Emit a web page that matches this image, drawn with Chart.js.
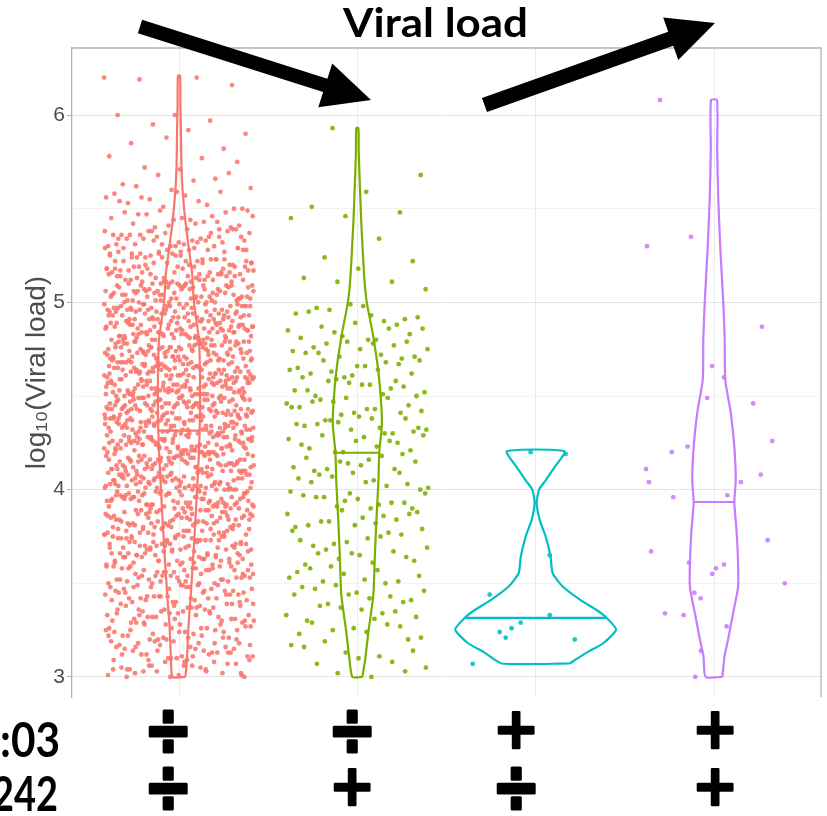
<!DOCTYPE html>
<html>
<head>
<meta charset="utf-8">
<script src="https://cdn.jsdelivr.net/npm/chart.js@4.4.1/dist/chart.umd.min.js"></script>
<style>
  html, body { margin: 0; padding: 0; background: #fff; }
</style>
</head>
<body>
<canvas id="violinChart" width="827" height="816"></canvas>
<script>
// Category positions on the x axis (1..4) and their colours
const groupPos = [1, 2, 3, 4];
const colours = ['#F8766D', '#7CAE00', '#00BFC4', '#C77CFF'];
const yTicks = [3, 3.5, 4, 4.5, 5, 5.5, 6];

// genotype table under the chart
const rowLabels = [':03', '242'];
const row1Marks = ['÷', '÷', '+', '+'];
const row2Marks = ['÷', '+', '÷', '+'];

// log10 viral load per patient, group 1
const redLoad = [
  6.20,6.20,6.19,6.16,6.00,6.00,5.97,5.95,5.90,5.92,5.85,5.82,5.88,5.78,5.77,5.72,5.75,5.71,5.63,5.66,5.68,5.61,5.65,5.62,5.69,5.60,
  5.58,5.52,5.55,5.50,5.57,5.53,5.59,5.51,5.56,5.54,5.56,5.50,5.59,5.54,
  5.46,5.40,5.49,5.44,5.42,5.48,5.41,5.45,5.43,5.47,5.41,5.45,5.48,5.43,5.49,5.46,5.42,5.47,5.40,5.44,
  5.31,5.35,5.38,5.33,5.39,5.36,5.32,5.37,5.30,5.34,5.34,5.39,5.32,5.36,5.30,5.35,5.37,5.33,5.31,5.38,
  5.30,5.36,5.33,5.38,5.35,5.31,5.34,5.39,
  5.24,5.29,5.22,5.26,5.20,5.25,5.27,5.23,5.21,5.28,5.20,5.26,5.23,5.28,5.25,5.21,5.24,5.29,5.27,5.22,
  5.23,5.27,5.21,5.29,5.24,5.20,5.26,5.22,5.28,5.25,5.28,5.22,
  5.10,5.16,5.13,5.18,5.15,5.11,5.14,5.19,5.17,5.12,5.13,5.17,5.11,5.19,5.14,5.10,5.16,5.12,5.18,5.15,
  5.18,5.12,5.15,5.10,5.17,5.13,5.19,5.11,5.16,5.14,5.16,5.10,5.19,5.14,5.12,5.18,5.11,5.15,
  5.03,5.07,5.01,5.09,5.04,5.00,5.06,5.02,5.08,5.05,5.08,5.02,5.05,5.00,5.07,5.03,5.09,5.01,5.06,5.04,
  5.06,5.00,5.09,5.04,5.02,5.08,5.01,5.05,5.03,5.07,5.01,5.05,5.08,5.03,5.09,5.06,5.02,5.07,5.00,5.04,
  5.04,5.09,5.02,5.06,
  4.98,4.92,4.95,4.90,4.97,4.93,4.99,4.91,4.96,4.94,4.96,4.90,4.99,4.94,4.92,4.98,4.91,4.95,4.93,4.97,
  4.91,4.95,4.98,4.93,4.99,4.96,4.92,4.97,4.90,4.94,4.94,4.99,4.92,4.96,4.90,4.95,4.97,4.93,4.91,4.98,
  4.90,4.96,4.93,4.98,4.95,4.91,4.94,4.99,
  4.86,4.80,4.89,4.84,4.82,4.88,4.81,4.85,4.83,4.87,4.81,4.85,4.88,4.83,4.89,4.86,4.82,4.87,4.80,4.84,
  4.84,4.89,4.82,4.86,4.80,4.85,4.87,4.83,4.81,4.88,4.80,4.86,4.83,4.88,4.85,4.81,4.84,4.89,4.87,4.82,
  4.83,4.87,4.81,4.89,4.84,4.80,4.86,4.82,4.88,4.85,
  4.71,4.75,4.78,4.73,4.79,4.76,4.72,4.77,4.70,4.74,4.74,4.79,4.72,4.76,4.70,4.75,4.77,4.73,4.71,4.78,
  4.70,4.76,4.73,4.78,4.75,4.71,4.74,4.79,4.77,4.72,4.73,4.77,4.71,4.79,4.74,4.70,4.76,4.72,4.78,4.75,
  4.78,4.72,4.75,4.70,4.77,4.73,4.79,4.71,4.76,4.74,4.76,4.70,
  4.64,4.69,4.62,4.66,4.60,4.65,4.67,4.63,4.61,4.68,4.60,4.66,4.63,4.68,4.65,4.61,4.64,4.69,4.67,4.62,
  4.63,4.67,4.61,4.69,4.64,4.60,4.66,4.62,4.68,4.65,4.68,4.62,4.65,4.60,4.67,4.63,4.69,4.61,4.66,4.64,
  4.66,4.60,4.69,4.64,4.62,4.68,4.61,4.65,4.63,4.67,4.61,4.65,4.68,4.63,
  4.50,4.56,4.53,4.58,4.55,4.51,4.54,4.59,4.57,4.52,4.53,4.57,4.51,4.59,4.54,4.50,4.56,4.52,4.58,4.55,
  4.58,4.52,4.55,4.50,4.57,4.53,4.59,4.51,4.56,4.54,4.56,4.50,4.59,4.54,4.52,4.58,4.51,4.55,4.53,4.57,
  4.51,4.55,4.58,4.53,4.59,4.56,4.52,4.57,4.50,4.54,4.54,4.59,4.52,4.56,4.50,
  4.43,4.47,4.41,4.49,4.44,4.40,4.46,4.42,4.48,4.45,4.48,4.42,4.45,4.40,4.47,4.43,4.49,4.41,4.46,4.44,
  4.46,4.40,4.49,4.44,4.42,4.48,4.41,4.45,4.43,4.47,4.41,4.45,4.48,4.43,4.49,4.46,4.42,4.47,4.40,4.44,
  4.44,4.49,4.42,4.46,4.40,4.45,4.47,4.43,4.41,4.48,4.40,4.46,4.43,4.48,4.45,
  4.38,4.32,4.35,4.30,4.37,4.33,4.39,4.31,4.36,4.34,4.36,4.30,4.39,4.34,4.32,4.38,4.31,4.35,4.33,4.37,
  4.31,4.35,4.38,4.33,4.39,4.36,4.32,4.37,4.30,4.34,4.34,4.39,4.32,4.36,4.30,4.35,4.37,4.33,4.31,4.38,
  4.30,4.36,4.33,4.38,4.35,4.31,4.34,4.39,4.37,4.32,4.33,4.37,4.31,4.39,4.34,
  4.26,4.20,4.29,4.24,4.22,4.28,4.21,4.25,4.23,4.27,4.21,4.25,4.28,4.23,4.29,4.26,4.22,4.27,4.20,4.24,
  4.24,4.29,4.22,4.26,4.20,4.25,4.27,4.23,4.21,4.28,4.20,4.26,4.23,4.28,4.25,4.21,4.24,4.29,4.27,4.22,
  4.23,4.27,4.21,4.29,4.24,4.20,4.26,4.22,4.28,4.25,4.28,4.22,4.25,4.20,
  4.11,4.15,4.18,4.13,4.19,4.16,4.12,4.17,4.10,4.14,4.14,4.19,4.12,4.16,4.10,4.15,4.17,4.13,4.11,4.18,
  4.10,4.16,4.13,4.18,4.15,4.11,4.14,4.19,4.17,4.12,4.13,4.17,4.11,4.19,4.14,4.10,4.16,4.12,4.18,4.15,
  4.18,4.12,4.15,4.10,4.17,4.13,4.19,4.11,4.16,4.14,4.16,4.10,
  4.04,4.09,4.02,4.06,4.00,4.05,4.07,4.03,4.01,4.08,4.00,4.06,4.03,4.08,4.05,4.01,4.04,4.09,4.07,4.02,
  4.03,4.07,4.01,4.09,4.04,4.00,4.06,4.02,4.08,4.05,4.08,4.02,4.05,4.00,4.07,4.03,4.09,4.01,4.06,4.04,
  4.06,4.00,4.09,4.04,4.02,4.08,4.01,4.05,4.03,4.07,
  3.90,3.96,3.93,3.98,3.95,3.91,3.94,3.99,3.97,3.92,3.93,3.97,3.91,3.99,3.94,3.90,3.96,3.92,3.98,3.95,
  3.98,3.92,3.95,3.90,3.97,3.93,3.99,3.91,3.96,3.94,3.96,3.90,3.99,3.94,3.92,3.98,3.91,3.95,3.93,3.97,
  3.91,3.95,3.98,3.93,3.99,3.96,3.92,
  3.83,3.87,3.81,3.89,3.84,3.80,3.86,3.82,3.88,3.85,3.88,3.82,3.85,3.80,3.87,3.83,3.89,3.81,3.86,3.84,
  3.86,3.80,3.89,3.84,3.82,3.88,3.81,3.85,3.83,3.87,3.81,3.85,3.88,3.83,3.89,3.86,3.82,3.87,3.80,3.84,
  3.84,3.89,3.82,3.86,
  3.78,3.72,3.75,3.70,3.77,3.73,3.79,3.71,3.76,3.74,3.76,3.70,3.79,3.74,3.72,3.78,3.71,3.75,3.73,3.77,
  3.71,3.75,3.78,3.73,3.79,3.76,3.72,3.77,3.70,3.74,3.74,3.79,3.72,3.76,3.70,3.75,3.77,3.73,3.71,3.78,
  3.70,
  3.66,3.60,3.69,3.64,3.62,3.68,3.61,3.65,3.63,3.67,3.61,3.65,3.68,3.63,3.69,3.66,3.62,3.67,3.60,3.64,
  3.64,3.69,3.62,3.66,3.60,3.65,3.67,3.63,3.61,3.68,3.60,3.66,3.63,3.68,3.65,3.61,3.64,3.69,
  3.51,3.55,3.58,3.53,3.59,3.56,3.52,3.57,3.50,3.54,3.54,3.59,3.52,3.56,3.50,3.55,3.57,3.53,3.51,3.58,
  3.50,3.56,3.53,3.58,3.55,3.51,3.54,3.59,3.57,3.52,3.53,3.57,3.51,3.59,3.54,
  3.44,3.49,3.42,3.46,3.40,3.45,3.47,3.43,3.41,3.48,3.40,3.46,3.43,3.48,3.45,3.41,3.44,3.49,3.47,3.42,
  3.43,3.47,3.41,3.49,3.44,3.40,3.46,3.42,3.48,3.45,3.48,3.42,
  3.30,3.36,3.33,3.38,3.35,3.31,3.34,3.39,3.37,3.32,3.33,3.37,3.31,3.39,3.34,3.30,3.36,3.32,3.38,3.35,
  3.38,3.32,3.35,3.30,3.37,3.33,3.39,3.31,3.36,3.34,
  3.23,3.27,3.21,3.29,3.24,3.20,3.26,3.22,3.28,3.25,3.28,3.22,3.25,3.20,3.27,3.23,3.29,3.21,3.26,3.24,
  3.26,3.20,3.29,3.24,3.22,3.28,3.21,3.25,
  3.18,3.12,3.15,3.10,3.17,3.13,3.19,3.11,3.16,3.14,3.16,3.10,3.19,3.14,3.12,3.18,3.11,3.15,3.13,3.17,
  3.11,3.15,3.18,3.13,3.19,3.16,3.12,
  3.06,3.00,3.09,3.04,3.02,3.08,3.01,3.05,3.03,3.07,3.01,3.05,3.08,3.03,3.09,3.06,3.02,3.07,3.00,3.04,
  3.04,3.09,3.02,3.06,3.00,
  // second batch of group 1 patients
  5.35,5.31,5.38,5.32,5.36,5.39,5.30,5.34,5.37,5.33,
  5.22,5.28,5.24,5.27,5.21,5.26,5.23,5.20,5.29,5.25,5.29,5.23,5.26,5.21,
  5.19,5.13,5.16,5.11,5.18,5.14,5.15,5.12,5.10,5.17,5.15,5.11,5.18,5.12,5.16,5.19,5.10,5.14,
  5.05,5.01,5.08,5.02,5.06,5.09,5.00,5.04,5.07,5.03,5.02,5.08,5.04,5.07,5.01,5.06,5.03,5.00,5.09,5.05,
  5.09,5.03,
  4.92,4.98,4.94,4.97,4.91,4.96,4.93,4.90,4.99,4.95,4.99,4.93,4.96,4.91,4.98,4.94,4.95,4.92,4.90,4.97,
  4.95,4.91,4.98,4.92,4.96,
  4.89,4.83,4.86,4.81,4.88,4.84,4.85,4.82,4.80,4.87,4.85,4.81,4.88,4.82,4.86,4.89,4.80,4.84,4.87,4.83,
  4.82,4.88,4.84,4.87,4.81,4.86,
  4.75,4.71,4.78,4.72,4.76,4.79,4.70,4.74,4.77,4.73,4.72,4.78,4.74,4.77,4.71,4.76,4.73,4.70,4.79,4.75,
  4.79,4.73,4.76,4.71,4.78,4.74,4.75,
  4.62,4.68,4.64,4.67,4.61,4.66,4.63,4.60,4.69,4.65,4.69,4.63,4.66,4.61,4.68,4.64,4.65,4.62,4.60,4.67,
  4.65,4.61,4.68,4.62,4.66,4.69,4.60,4.64,
  4.59,4.53,4.56,4.51,4.58,4.54,4.55,4.52,4.50,4.57,4.55,4.51,4.58,4.52,4.56,4.59,4.50,4.54,4.57,4.53,
  4.52,4.58,4.54,4.57,4.51,4.56,4.53,4.50,
  4.45,4.41,4.48,4.42,4.46,4.49,4.40,4.44,4.47,4.43,4.42,4.48,4.44,4.47,4.41,4.46,4.43,4.40,4.49,4.45,
  4.49,4.43,4.46,4.41,4.48,4.44,4.45,4.42,
  4.32,4.38,4.34,4.37,4.31,4.36,4.33,4.30,4.39,4.35,4.39,4.33,4.36,4.31,4.38,4.34,4.35,4.32,4.30,4.37,
  4.35,4.31,4.38,4.32,4.36,4.39,4.30,4.34,
  4.29,4.23,4.26,4.21,4.28,4.24,4.25,4.22,4.20,4.27,4.25,4.21,4.28,4.22,4.26,4.29,4.20,4.24,4.27,4.23,
  4.22,4.28,4.24,4.27,4.21,4.26,4.23,
  4.15,4.11,4.18,4.12,4.16,4.19,4.10,4.14,4.17,4.13,4.12,4.18,4.14,4.17,4.11,4.16,4.13,4.10,4.19,4.15,
  4.19,4.13,4.16,4.11,4.18,4.14,
  4.02,4.08,4.04,4.07,4.01,4.06,4.03,4.00,4.09,4.05,4.09,4.03,4.06,4.01,4.08,4.04,4.05,4.02,4.00,4.07,
  4.05,4.01,4.08,4.02,4.06,
  3.99,3.93,3.96,3.91,3.98,3.94,3.95,3.92,3.90,3.97,3.95,3.91,3.98,3.92,3.96,3.99,3.90,3.94,3.97,3.93,
  3.92,3.98,
  3.85,3.81,3.88,3.82,3.86,3.89,3.80,3.84,3.87,3.83,3.82,3.88,3.84,3.87,3.81,3.86,3.83,3.80,3.89,3.85,
  3.72,3.78,3.74,3.77,3.71,3.76,3.73,3.70,3.79,3.75,3.79,3.73,3.76,3.71,3.78,3.74,3.75,3.72,
  3.69,3.63,3.66,3.61,3.68,3.64,3.65,3.62,3.60,3.67,3.65,3.61,3.68,3.62,3.66,3.69,
  3.55,3.51,3.58,3.52,3.56,3.59,3.50,3.54,3.57,3.53,3.52,3.58,3.54,3.57,
  3.42,3.48,3.44,3.47,3.41,3.46,3.43,3.40,3.49,3.45,3.49,3.43,
  3.39,3.33,3.36,3.31,3.38,3.34,3.35,3.32,3.30,3.37,
  3.25,3.21,3.28,3.22,3.26,3.29,3.20,3.24,
  3.12,3.18,3.14,3.17,3.11,3.16,3.13,3.10,
  3.09,3.03,3.06,3.01,3.08,3.04
];

// group 2
const greenLoad = [
  5.93,5.68,5.59,5.51,5.48,5.46,5.45,5.34,5.24,5.22,5.18,5.13,5.11,5.11,5.07,
  4.93,4.97,4.91,4.99,4.94,4.90,4.96,4.92,4.98,4.95,
  4.88,4.82,4.85,4.80,4.87,4.83,4.89,4.81,4.86,4.84,4.86,4.80,
  4.76,4.70,4.79,4.74,4.72,4.78,4.71,4.75,4.73,4.77,4.71,4.75,4.78,4.73,4.79,
  4.61,4.65,4.68,4.63,4.69,4.66,4.62,4.67,4.60,4.64,4.64,4.69,4.62,4.66,4.60,
  4.54,4.59,4.52,4.56,4.50,4.55,4.57,4.53,4.51,4.58,4.50,4.56,4.53,4.58,
  4.40,4.46,4.43,4.48,4.45,4.41,4.44,4.49,4.47,4.42,4.43,4.47,4.41,4.49,4.44,
  4.33,4.37,4.31,4.39,4.34,4.30,4.36,4.32,4.38,4.35,4.38,4.32,4.35,4.30,4.37,4.33,
  4.28,4.22,4.25,4.20,4.27,4.23,4.29,4.21,4.26,4.24,4.26,4.20,4.29,
  4.16,4.10,4.19,4.14,4.12,4.18,4.11,4.15,4.13,4.17,4.11,4.15,
  4.01,4.05,4.08,4.03,4.09,4.06,4.02,4.07,4.00,4.04,4.04,4.09,
  3.94,3.99,3.92,3.96,3.90,3.95,3.97,3.93,3.91,3.98,3.90,3.96,3.93,3.98,
  3.80,3.86,3.83,3.88,3.85,3.81,3.84,3.89,3.87,3.82,3.83,3.87,3.81,
  3.73,3.77,3.71,3.79,3.74,3.70,3.76,3.72,3.78,3.75,
  3.68,3.62,3.65,3.60,3.67,3.63,3.69,3.61,3.66,3.64,3.66,
  3.56,3.50,3.59,3.54,3.52,3.58,3.51,3.55,3.53,3.57,3.51,
  3.41,3.45,3.48,3.43,3.49,3.46,3.42,3.47,3.40,3.44,3.44,
  3.34,3.39,3.32,3.36,3.30,3.35,3.37,3.33,3.31,3.38,
  3.20,3.26,3.23,3.28,3.25,3.21,3.24,3.29,3.27,
  3.13,3.17,3.11,3.19,3.14,3.10,3.16,
  3.08,3.02,3.05,3.00,3.07,3.03
];

// group 3 (few patients, read one by one)
const cyanLoad   = [4.20, 4.19, 3.65, 3.44, 3.33, 3.29, 3.26, 3.24, 3.21, 3.20, 3.07];
const cyanJitter = [-0.028, 0.168, 0.079, -0.258, 0.079, -0.084, -0.135, -0.202, -0.168, 0.219, -0.353];

// group 4
const purpleLoad = [6.08, 5.35, 5.30, 4.87, 4.66, 4.60, 4.49, 4.46, 4.26, 4.23, 4.20, 4.11, 4.08, 4.04, 4.04, 3.97,
  3.96, 3.73, 3.67, 3.61, 3.60, 3.58, 3.55, 3.50, 3.45, 3.42, 3.34, 3.33, 3.27, 3.14, 3.00];
const purpleJitter = [-0.303, -0.129, -0.376, 0.269, -0.011, 0.056, -0.038, 0.220, 0.327, -0.148, -0.237, -0.381, 0.262, -0.365, 0.151, 0.075,
  -0.228, 0.301, -0.353, -0.140, 0.056, 0.011, -0.010, 0.397, -0.110, -0.075, -0.275, -0.170, 0.071, -0.073, -0.105];

// medians drawn inside each violin
const medians = [4.315, 4.197, 3.315, 3.934];

// violin outlines: density half width (category units) at each load level
const redViolinY = [3.00, 3.10, 3.27, 3.45, 3.63, 3.80, 4.00, 4.20, 4.40, 4.60, 4.80, 5.00, 5.16, 5.28, 5.45, 5.60, 5.72, 5.90, 6.05, 6.21];
const redViolinW = [0.036, 0.045, 0.053, 0.067, 0.079, 0.090, 0.101, 0.112, 0.118, 0.118, 0.112, 0.084, 0.073, 0.056, 0.034, 0.020, 0.014, 0.011, 0.008, 0.006];
const greenViolinY = [3.00, 3.10, 3.24, 3.44, 3.64, 3.84, 4.04, 4.20, 4.34, 4.44, 4.63, 4.83, 5.00, 5.13, 5.43, 5.63, 5.80, 5.93];
const greenViolinW = [0.028, 0.045, 0.062, 0.090, 0.098, 0.107, 0.118, 0.123, 0.137, 0.135, 0.118, 0.087, 0.053, 0.039, 0.022, 0.014, 0.008, 0.006];
const cyanViolinY = [3.072, 3.13, 3.18, 3.253, 3.32, 3.36, 3.41, 3.484, 3.555, 3.64, 3.75, 3.84, 3.93, 4.00, 4.05, 4.124, 4.205];
const cyanViolinW = [0.191, 0.286, 0.379, 0.451, 0.393, 0.337, 0.252, 0.150, 0.095, 0.084, 0.056, 0.022, 0.006, 0.019, 0.056, 0.109, 0.161];
const purpleViolinY = [3.00, 3.11, 3.20, 3.34, 3.48, 3.61, 3.787, 3.934, 4.05, 4.23, 4.41, 4.587, 4.80, 5.00, 5.28, 5.55, 5.81, 6.08];
const purpleViolinW = [0.047, 0.059, 0.079, 0.107, 0.135, 0.135, 0.126, 0.114, 0.122, 0.114, 0.094, 0.063, 0.060, 0.052, 0.036, 0.024, 0.018, 0.017];

const violinY = [redViolinY, greenViolinY, cyanViolinY, purpleViolinY];
const violinW = [redViolinW, greenViolinW, cyanViolinW, purpleViolinW];

// spread a big group sideways (the plot is a jitter plot)
function spread(values, centre, width, seed) {
  return values.map((v, i) => ({ x: centre + ((((i + seed) * 0.6180339887) % 1) * 2 - 1) * width, y: v }));
}

function placed(values, centre, jitter) {
  return values.map((v, i) => ({ x: centre + jitter[i], y: v }));
}

function outline(levels, half, centre) {
  const right = levels.map((y, i) => ({ x: centre + half[i], y: y }));
  const left = levels.map((y, i) => ({ x: centre - half[i], y: y })).reverse();
  return right.concat(left, [right[0]]);
}

function halfAt(levels, half, y) {
  for (let i = 1; i < levels.length; i++) {
    if (y <= levels[i]) {
      const t = (y - levels[i - 1]) / (levels[i] - levels[i - 1]);
      return half[i - 1] + t * (half[i] - half[i - 1]);
    }
  }
  return half[half.length - 1];
}

const pointSets = [
  spread(redLoad, groupPos[0], 0.42, 0),
  spread(greenLoad, groupPos[1], 0.40, 7),
  placed(cyanLoad, groupPos[2], cyanJitter),
  placed(purpleLoad, groupPos[3], purpleJitter)
];

const datasets = [];
groupPos.forEach((c, g) => {
  datasets.push({
    data: outline(violinY[g], violinW[g], c),
    showLine: true,
    borderColor: colours[g],
    borderWidth: 2.2,
    tension: 0.2,
    pointRadius: 0,
    fill: false,
    order: 0
  });
  const hw = halfAt(violinY[g], violinW[g], medians[g]);
  datasets.push({
    data: [{ x: c - hw, y: medians[g] }, { x: c + hw, y: medians[g] }],
    showLine: true,
    borderColor: colours[g],
    borderWidth: 2.2,
    pointRadius: 0,
    order: 0
  });
  datasets.push({
    data: pointSets[g],
    pointRadius: 2.4,
    pointBorderWidth: 0,
    pointBackgroundColor: colours[g] + 'E0',
    showLine: false,
    order: 1
  });
});

// fits text into a given width (the original uses a narrow bold face)
function fitText(ctx, text, font, x, y, width, align) {
  ctx.save();
  ctx.font = font;
  const w = ctx.measureText(text).width;
  const s = width / w;
  let left = x;
  if (align === 'center') left = x - width / 2;
  if (align === 'right') left = x - width;
  ctx.translate(left, y);
  ctx.scale(s, 1);
  ctx.textAlign = 'left';
  ctx.textBaseline = 'alphabetic';
  ctx.fillText(text, 0, 0);
  ctx.restore();
}

function drawMark(ctx, mark, cx, cy, w, h) {
  ctx.save();
  ctx.font = 'bold 60px "DejaVu Sans"';
  const m = ctx.measureText(mark);
  const bw = m.actualBoundingBoxLeft + m.actualBoundingBoxRight;
  const bh = m.actualBoundingBoxAscent + m.actualBoundingBoxDescent;
  ctx.translate(cx, cy);
  ctx.scale(w / bw, h / bh);
  ctx.textAlign = 'left';
  ctx.textBaseline = 'alphabetic';
  const ox = -bw / 2 + m.actualBoundingBoxLeft;
  const oy = bh / 2 - m.actualBoundingBoxDescent;
  ctx.lineJoin = 'round';
  ctx.lineWidth = 2.5;
  ctx.strokeStyle = '#000';
  ctx.fillText(mark, ox, oy);
  ctx.strokeText(mark, ox, oy);
  ctx.restore();
}

function arrow(ctx, x0, y0, x1, y1, shaft, headLen, headW) {
  const a = Math.atan2(y1 - y0, x1 - x0);
  const len = Math.hypot(x1 - x0, y1 - y0);
  ctx.save();
  ctx.translate(x0, y0);
  ctx.rotate(a);
  ctx.beginPath();
  ctx.moveTo(0, -shaft / 2);
  ctx.lineTo(len - headLen, -shaft / 2);
  ctx.lineTo(len - headLen, -headW / 2);
  ctx.lineTo(len, 0);
  ctx.lineTo(len - headLen, headW / 2);
  ctx.lineTo(len - headLen, shaft / 2);
  ctx.lineTo(0, shaft / 2);
  ctx.closePath();
  ctx.fillStyle = '#000';
  ctx.fill();
  ctx.restore();
}

const overlay = {
  id: 'overlay',
  afterDraw(chart) {
    const ctx = chart.ctx;
    const area = chart.chartArea;

    // panel border (top and right)
    ctx.save();
    ctx.strokeStyle = '#b3b3b3';
    ctx.lineWidth = 1.3;
    ctx.beginPath();
    ctx.moveTo(area.left, area.top);
    ctx.lineTo(area.right, area.top);
    ctx.lineTo(area.right, area.bottom);
    ctx.stroke();
    ctx.restore();

    ctx.fillStyle = '#000';
    fitText(ctx, 'Viral load', 'bold 40px Lato', 435.5, 37, 185, 'center');

    arrow(ctx, 140, 26.5, 371, 100, 14, 48, 46);
    arrow(ctx, 484.5, 105, 715, 23, 15, 47, 45);

    // genotype rows
    ctx.fillStyle = '#000';
    fitText(ctx, rowLabels[0], 'bold 48px Lato', 60, 757, 60, 'right');
    fitText(ctx, rowLabels[1], 'bold 48px Lato', 58, 811, 66, 'right');

    const markX = [168, 352, 516, 715];
    const rowY = [731, 788];
    [row1Marks, row2Marks].forEach((row, r) => {
      row.forEach((mk, i) => {
        if (mk === '÷') drawMark(ctx, mk, markX[i], rowY[r], 37, 41);
        else drawMark(ctx, mk, markX[i], rowY[r] - 2, 35, 37);
      });
    });
  }
};

new Chart(document.getElementById('violinChart').getContext('2d'), {
  type: 'scatter',
  data: { datasets: datasets },
  options: {
    responsive: false,
    animation: false,
    layout: { padding: { left: 0, top: 48, right: 6, bottom: 119 } },
    plugins: { legend: { display: false }, tooltip: { enabled: false } },
    scales: {
      x: {
        type: 'linear',
        min: 0.4,
        max: 4.6,
        afterBuildTicks: axis => { axis.ticks = groupPos.map(v => ({ value: v })); },
        afterFit: axis => { axis.height = 0; },
        ticks: { display: false },
        grid: { color: '#ebebeb', lineWidth: 1, drawTicks: false },
        border: { display: false }
      },
      y: {
        min: 2.893,
        max: 6.358,
        afterBuildTicks: axis => { axis.ticks = yTicks.map(v => ({ value: v })); },
        afterFit: axis => { axis.width = 72; },
        ticks: {
          callback: v => Number.isInteger(v) ? String(v) : '',
          color: '#4d4d4d',
          font: { family: 'Liberation Sans', size: 21 },
          padding: 2
        },
        grid: {
          color: ctx => Number.isInteger(ctx.tick.value) ? '#e4e4e4' : '#f3f3f3',
          tickColor: ctx => Number.isInteger(ctx.tick.value) ? '#b3b3b3' : 'rgba(0,0,0,0)',
          tickLength: 5,
          lineWidth: 1
        },
        border: { color: '#b3b3b3', width: 1.3 },
        title: {
          display: true,
          text: 'log₁₀(Viral load)',
          color: '#4d4d4d',
          font: { family: 'Liberation Sans', size: 28 },
          padding: { top: 20, bottom: 0 }
        }
      }
    }
  },
  plugins: [overlay]
});
</script>
</body>
</html>
